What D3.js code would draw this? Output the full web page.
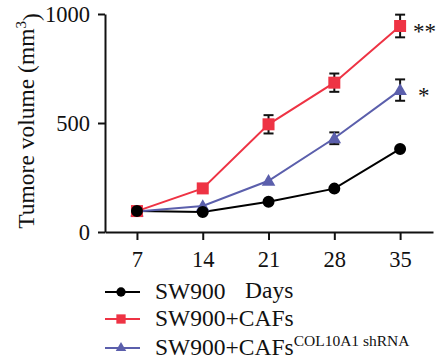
<!DOCTYPE html>
<html><head><meta charset="utf-8">
<script src="https://cdn.jsdelivr.net/npm/d3@7"></script>
<style>body{margin:0;background:#fff}svg{display:block}text{font-family:"Liberation Serif","DejaVu Serif",serif;fill:#111}</style>
</head><body><svg id="c" width="437" height="364"></svg>
<script>
const days = [7, 14, 21, 28, 35];
const sw900 = [96, 92, 139, 199, 381];
const caf = [96, 200, 494, 685, 945];
const cafErr = [0, 0, 42, 42, 52];
const shrna = [94, 119, 235, 430, 651];
const shrnaErr = [0, 0, 0, 27, 49];
const yTicks = [0, 500, 1000];
const seriesNames = ["SW900", "SW900+CAFs", "SW900+CAFs"];
const colors = ["#000000", "#ee3344", "#5b5fac"];
const sigMarks = ["**", "*"];
const FONT = '"Liberation Serif","DejaVu Serif",serif';

const svg = d3.select("#c");
const x = d3.scaleLinear().domain([3.6, 38.5]).range([105, 433]);
const y = d3.scaleLinear().domain([0, 1000]).range([232, 14]);

// axes
const yAxis = svg.append("g").attr("transform", "translate(105,0)")
  .call(d3.axisLeft(y).tickValues(yTicks).tickFormat(d3.format("d")).tickSize(7).tickPadding(8).tickSizeOuter(0));
const xAxis = svg.append("g").attr("transform", "translate(0,232)")
  .call(d3.axisBottom(x).tickValues(days).tickFormat(d3.format("d")).tickSize(8).tickPadding(10).tickSizeOuter(0));
[yAxis, xAxis].forEach(g => {
  g.attr("font-family", FONT).attr("font-size", 22);
  g.select(".domain").attr("stroke", "#111").attr("stroke-width", 2);
  g.selectAll(".tick line").attr("stroke", "#111").attr("stroke-width", 2);
  g.selectAll(".tick text").attr("font-family", FONT).style("font-family", FONT).style("font-size", "22.5px").attr("fill", "#111");
});
xAxis.selectAll(".tick text").attr("dy", "0.75em");

// y label
const yl = svg.append("text").attr("transform", "translate(34,121) rotate(-90)")
  .attr("text-anchor", "middle").style("font-size", "23.5px");
yl.append("tspan").text("Tumore volume (mm");
yl.append("tspan").text("3").attr("dy", "-0.55em").style("font-size", "15px");
yl.append("tspan").text(")").attr("dy", "0.55em");

const series = [
  {v: sw900, e: null, c: colors[0], shape: d3.symbolCircle, size: 113},
  {v: caf, e: cafErr, c: colors[1], shape: d3.symbolSquare, size: 144},
  {v: shrna, e: shrnaErr, c: colors[2], shape: d3.symbolTriangle, size: 80}
];
const line = d3.line().x((d, i) => x(days[i])).y(d => y(d));

// lines
series.forEach(s => {
  svg.append("path").datum(s.v).attr("d", line).attr("fill", "none")
    .attr("stroke", s.c).attr("stroke-width", 2);
});
// error bars
series.forEach(s => {
  if (!s.e) return;
  s.v.forEach((v, i) => {
    const e = s.e[i]; if (!e) return;
    const g = svg.append("g").attr("stroke", "#111").attr("stroke-width", 2);
    const cx = x(days[i]);
    g.append("line").attr("x1", cx).attr("x2", cx).attr("y1", y(v + e)).attr("y2", y(v - e));
    g.append("line").attr("x1", cx - 5).attr("x2", cx + 5).attr("y1", y(v + e)).attr("y2", y(v + e));
    g.append("line").attr("x1", cx - 5).attr("x2", cx + 5).attr("y1", y(v - e)).attr("y2", y(v - e));
  });
});
// markers
[2, 1, 0].forEach(k => {
  const s = series[k];
  svg.selectAll(null).data(s.v).enter().append("path")
    .attr("transform", (d, i) => `translate(${x(days[i])},${y(d) + (k === 2 ? 1 : 0)})`)
    .attr("d", d3.symbol().type(s.shape).size(s.size)).attr("fill", s.c);
});

// significance
svg.append("text").attr("x", x(35) + 13).attr("y", y(caf[4]) + 13).style("font-size", "23px").text(sigMarks[0]);
svg.append("text").attr("x", x(35) + 18).attr("y", y(shrna[4]) + 13).style("font-size", "23px").text(sigMarks[1]);

// x label
svg.append("text").attr("x", 245).attr("y", 298).style("font-size", "23.5px").text("Days");

// legend
const ly = [292, 319, 348];
series.forEach((s, k) => {
  const g = svg.append("g").attr("transform", `translate(0,${ly[k]})`);
  g.append("line").attr("x1", 105).attr("x2", 140).attr("stroke", s.c).attr("stroke-width", 2);
  g.append("path").attr("transform", "translate(121,0)")
    .attr("d", d3.symbol().type(s.shape).size(s.size * 0.6)).attr("fill", s.c);
  const t = g.append("text").attr("x", 155).attr("y", 7).style("font-size", "23.5px");
  t.append("tspan").text(seriesNames[k]);
  if (k === 2) t.append("tspan").text("COL10A1 shRNA").attr("dy", "-0.58em").style("font-size", "15.5px");
});
</script></body></html>
